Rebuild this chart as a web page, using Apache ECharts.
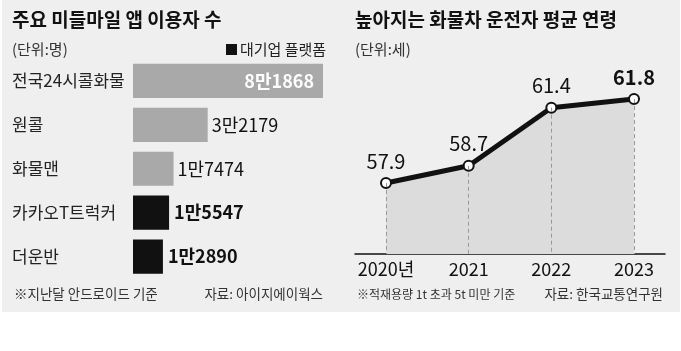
<!DOCTYPE html>
<html><head><meta charset="utf-8">
<script src="https://cdn.jsdelivr.net/npm/echarts@6/dist/echarts.min.js"></script>
<style>html,body{margin:0;padding:0;background:#fff}#c{width:681px;height:351px}</style>
</head><body><div id="c"></div>
<script>
// ---- Left chart data ----
const appNames = ['전국24시콜화물', '원콜', '화물맨', '카카오T트럭커', '더운반'];
const appUsers = [81868, 32179, 17474, 15547, 12890];
const isConglomerate = [false, false, false, true, true];
// ---- Right chart data ----
const years = [2020, 2021, 2022, 2023];
const avgAge = [57.9, 58.7, 61.4, 61.8];
const yearLabels = ['2020년', '2021', '2022', '2023'];

const FONT = '"Noto Sans CJK KR", "Noto Sans", sans-serif';
const fmtMan = v => Math.floor(v / 10000) + '만' + String(v % 10000);

const grayData = appUsers.map((v, i) => isConglomerate[i] ? '-' : {
  value: v,
  label: i === 0 ? {position: 'insideRight', color: '#fff', fontWeight: 'bold', offset: [-5, 0]} : {}
});
const blackData = appUsers.map((v, i) => isConglomerate[i] ? {value: v, label: {fontWeight: 'bold'}} : '-');

const linePts = years.map((y, i) => [y, avgAge[i]]);
const Y_MIN = 54.6, Y_MAX = 62.5;

const chart = echarts.init(document.getElementById('c'), null, {renderer: 'canvas'});
chart.setOption({
  backgroundColor: '#ffffff',
  animation: false,
  textStyle: {fontFamily: FONT},
  graphic: [{type: 'rect', z: -10, silent: true, shape: {x: 2, y: 0, width: 678, height: 312}, style: {fill: '#efefef'}}],
  title: [
    {text: '주요 미들마일 앱 이용자 수', left: 12, top: 10, padding: 0, textStyle: {fontFamily: FONT, fontSize: 19, fontWeight: 'bold', color: '#111'}},
    {text: '(단위:명)', left: 12, top: 42, padding: 0, textStyle: {fontFamily: FONT, fontSize: 15, fontWeight: 'normal', color: '#333'}},
    {text: '※지난달 안드로이드 기준', left: 14, top: 287, padding: 0, textStyle: {fontFamily: FONT, fontSize: 13.5, fontWeight: 'normal', color: '#333'}},
    {text: '자료: 아이지에이웍스', right: 358, top: 287, padding: 0, textStyle: {fontFamily: FONT, fontSize: 13.5, fontWeight: 'normal', color: '#333'}},
    {text: '높아지는 화물차 운전자 평균 연령', left: 355, top: 10, padding: 0, textStyle: {fontFamily: FONT, fontSize: 19, fontWeight: 'bold', color: '#111'}},
    {text: '(단위:세)', left: 355, top: 42, padding: 0, textStyle: {fontFamily: FONT, fontSize: 15, fontWeight: 'normal', color: '#333'}},
    {text: '※적재용량 1t 초과 5t 미만 기준', left: 357, top: 288, padding: 0, textStyle: {fontFamily: FONT, fontSize: 12, fontWeight: 'normal', color: '#333'}},
    {text: '자료: 한국교통연구원', right: 18, top: 287, padding: 0, textStyle: {fontFamily: FONT, fontSize: 13.5, fontWeight: 'normal', color: '#333'}}
  ],
  legend: {
    data: ['대기업 플랫폼'], left: 226, top: 42, padding: 0, icon: 'rect', itemWidth: 11, itemHeight: 11, itemGap: 3,
    textStyle: {fontFamily: FONT, fontSize: 15, color: '#222', padding: [0, 0, 0, -2]}
  },
  grid: [
    {left: 133, width: 190, top: 59, height: 219.5},
    {left: 355, right: 16, top: 84, bottom: 97}
  ],
  xAxis: [
    {gridIndex: 0, type: 'value', min: 0, max: 81868, show: false},
    {gridIndex: 1, type: 'value', min: 2019.625, max: 2023.375,
      splitLine: {show: false}, axisTick: {show: false},
      axisLine: {show: true, lineStyle: {color: '#111', width: 1.5}},
      axisLabel: {customValues: years, margin: 6, fontFamily: FONT, fontSize: 18, color: '#111',
        formatter: v => yearLabels[years.indexOf(Math.round(v))]}}
  ],
  yAxis: [
    {gridIndex: 0, type: 'category', data: appNames, inverse: true,
      axisLine: {show: false}, axisTick: {show: false}, splitLine: {show: false},
      axisLabel: {align: 'left', margin: 121, fontFamily: FONT, fontSize: 17, color: '#222'}},
    {gridIndex: 1, type: 'value', min: Y_MIN, max: Y_MAX, show: false}
  ],
  series: [
    {name: '기타', type: 'bar', xAxisIndex: 0, yAxisIndex: 0, data: grayData, barWidth: '78%', barGap: '-100%',
      itemStyle: {color: '#a9a9a9'},
      label: {show: true, position: 'right', distance: 4, fontFamily: FONT, fontSize: 18, color: '#111', formatter: p => fmtMan(p.value)}},
    {name: '대기업 플랫폼', type: 'bar', xAxisIndex: 0, yAxisIndex: 0, data: blackData, barWidth: '78%', barGap: '-100%',
      itemStyle: {color: '#111'},
      label: {show: true, position: 'right', distance: 5, fontFamily: FONT, fontSize: 18, color: '#111', formatter: p => fmtMan(p.value)}},
    {name: '평균 연령', type: 'line', xAxisIndex: 1, yAxisIndex: 1, data: linePts.map((p, i) => i === linePts.length - 1 ? {value: p, label: {fontWeight: 'bold'}} : p),
      lineStyle: {color: '#111', width: 5},
      symbol: 'circle', symbolSize: 10,
      itemStyle: {color: '#fff', borderColor: '#111', borderWidth: 2},
      areaStyle: {color: '#dcdcdc', origin: 'start', opacity: 1},
      label: {show: true, position: 'top', distance: 6, fontFamily: FONT, fontSize: 20, color: '#111', formatter: p => p.value[1].toFixed(1)},
      markLine: {silent: true, symbol: 'none', label: {show: false},
        lineStyle: {color: '#999', type: [4, 3], width: 1},
        data: linePts.map(p => [{coord: [p[0], p[1]]}, {coord: [p[0], Y_MIN]}])},
      z: 3}
  ]
});
</script></body></html>
